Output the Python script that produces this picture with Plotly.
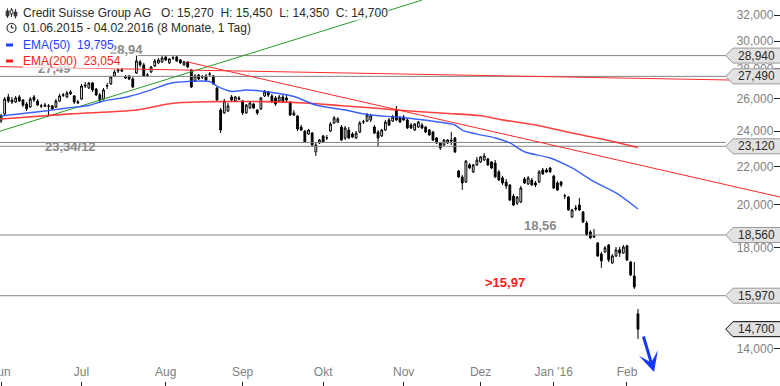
import numpy as np
import pandas as pd
import plotly.graph_objects as go

# ---------------- data ----------------
holidays = ["2015-12-24", "2015-12-25", "2015-12-31", "2016-01-01"]
dates = [d for d in pd.bdate_range("2015-06-01", "2016-02-04") if d.strftime("%Y-%m-%d") not in holidays]
day = list(range(len(dates)))  # trading-day index

opens = [24.62, 25.05, 26.12, 25.93, 25.80, 26.12, 25.93, 25.67, 25.48, 26.12, 25.86, 25.55, 25.61, 25.55, 25.55, 25.48, 25.86, 26.25, 26.12, 26.32, 26.19, 25.74,
         25.99, 26.91, 26.71, 27.04, 26.64, 26.25, 25.99, 26.84, 26.98, 27.52, 27.86, 27.93, 27.45, 27.52, 27.31, 27.72, 28.49, 28.28, 27.58, 27.79, 28.21, 28.42, 28.49,
         28.84, 28.42, 28.77, 28.84, 28.63, 28.28, 28.49, 27.93, 27.18, 27.58, 27.45, 27.52, 27.65, 27.52, 26.71, 25.29, 25.11, 25.23, 26.12, 25.86, 26.06,
         25.86, 25.11, 25.42, 25.67, 25.29, 25.36, 26.19, 26.45, 26.19, 26.06, 25.86, 26.12, 26.06, 25.74, 24.98, 24.92, 24.25, 24.01, 23.83, 23.89, 22.80, 23.31,
         23.72, 23.60, 24.01, 24.49, 24.55, 24.25, 23.60, 24.07, 23.83, 23.60, 23.95, 24.55, 24.61, 24.68, 24.25, 23.95, 23.72, 24.07, 24.68, 24.61, 25.29, 24.80,
         24.86, 24.68, 24.37, 24.07, 24.25, 24.37, 24.25, 24.07, 23.95, 23.60, 23.31, 23.20, 23.31, 23.48, 23.60, 21.75, 21.43, 21.16, 22.08, 21.70, 22.08,
         22.24, 22.35, 22.41, 22.24, 22.18, 21.70, 21.38, 21.16, 21.01, 20.44, 20.09, 20.14, 21.32, 21.06, 21.27, 21.11, 21.16, 21.80, 21.80, 21.91,
         21.48, 21.11, 21.16, 20.44, 20.39, 19.41, 19.85, 19.99, 19.65, 19.12, 18.70, 18.52, 18.20, 17.71, 17.80, 18.11, 17.32, 17.62, 17.89, 17.75,
         18.07, 17.36, 16.77, 15.27]
highs = [25.05, 26.12, 26.32, 26.12, 26.19, 26.25, 25.99, 25.80, 26.12, 26.25, 25.99, 25.67, 25.74, 25.67, 25.61, 25.99, 26.32, 26.38, 26.51, 26.58, 26.25, 25.93,
         26.98, 27.11, 27.11, 27.11, 26.71, 26.38, 26.71, 27.04, 27.52, 27.93, 28.07, 28.07, 27.58, 27.58, 27.45, 28.94, 28.63, 28.42, 27.72, 28.21, 28.70, 28.77, 28.91,
         28.91, 28.77, 28.91, 28.91, 28.70, 28.56, 28.56, 28.00, 27.65, 27.65, 27.58, 27.65, 27.79, 27.58, 26.78, 25.42, 25.99, 25.74, 26.25, 26.19, 26.19,
         25.93, 25.67, 25.80, 25.74, 25.36, 26.12, 26.58, 26.51, 26.32, 26.19, 26.25, 26.25, 26.25, 25.86, 25.29, 24.98, 24.37, 24.07, 24.13, 23.95, 23.31, 23.54,
         23.78, 23.78, 24.55, 24.92, 24.86, 24.37, 24.31, 24.25, 23.95, 24.01, 24.61, 24.68, 25.11, 25.05, 24.37, 24.07, 24.13, 24.68, 24.80, 24.98, 25.55, 24.92,
         24.98, 24.80, 24.49, 24.49, 24.61, 24.49, 24.31, 24.13, 24.01, 23.66, 23.37, 23.54, 23.54, 23.95, 23.66, 21.80, 21.54, 22.35, 22.18, 22.13, 22.52,
         22.57, 22.74, 22.46, 22.29, 22.35, 21.80, 21.48, 21.32, 21.06, 20.55, 20.44, 20.96, 21.43, 21.48, 21.38, 21.22, 21.80, 21.91, 21.91, 21.97,
         21.54, 21.22, 21.22, 20.55, 20.44, 19.80, 19.99, 20.34, 19.70, 19.22, 18.79, 18.84, 18.24, 17.80, 18.06, 18.15, 17.71, 18.02, 18.02, 18.11,
         18.11, 17.41, 17.36, 15.45]
lows = [24.49, 24.98, 25.74, 25.67, 25.74, 25.80, 25.48, 25.23, 25.42, 25.80, 25.55, 25.42, 25.48, 24.92, 25.29, 25.42, 25.80, 26.12, 26.06, 26.25, 25.67, 25.67,
        25.93, 26.71, 26.64, 26.45, 26.19, 25.74, 25.93, 26.64, 26.91, 27.45, 27.72, 27.79, 27.31, 27.24, 26.71, 27.65, 28.14, 27.45, 27.45, 27.72, 28.14, 28.35, 28.42,
        28.56, 28.35, 28.63, 28.49, 28.35, 28.21, 28.07, 26.71, 27.11, 27.24, 27.31, 27.18, 27.52, 26.91, 25.86, 23.89, 25.05, 25.17, 25.86, 25.80, 25.93,
        24.98, 25.05, 25.36, 25.36, 24.98, 25.29, 26.12, 26.12, 25.74, 25.55, 25.80, 25.74, 25.80, 24.92, 24.92, 24.01, 24.01, 23.31, 23.78, 23.08, 22.57, 23.25,
        23.31, 23.48, 23.95, 24.43, 24.49, 23.43, 23.48, 23.54, 23.60, 23.54, 23.89, 24.43, 24.55, 24.55, 23.83, 23.08, 23.66, 24.01, 24.31, 24.55, 24.61, 24.49,
        24.61, 24.13, 24.13, 24.01, 24.19, 24.13, 23.89, 23.72, 23.43, 23.25, 22.91, 23.14, 23.25, 23.20, 22.74, 21.38, 20.75, 21.11, 21.86, 21.64, 22.02,
        22.19, 22.29, 22.02, 21.86, 21.38, 21.22, 21.01, 20.80, 20.19, 19.94, 19.99, 20.09, 21.06, 21.01, 20.96, 20.90, 21.11, 21.54, 21.64, 21.64,
        20.80, 20.70, 20.90, 20.29, 19.70, 19.36, 19.70, 19.70, 19.12, 18.52, 18.38, 18.43, 17.58, 17.11, 17.75, 17.36, 17.28, 17.58, 17.58, 17.71,
        17.41, 16.77, 16.24, 14.35]
closes = [24.92, 25.99, 25.86, 25.80, 26.06, 25.86, 25.61, 25.36, 25.99, 25.93, 25.61, 25.54, 25.55, 25.53, 25.36, 25.86, 26.19, 26.24, 26.38, 26.45, 25.80, 25.80,
          26.84, 26.84, 27.04, 26.58, 26.25, 25.93, 26.58, 26.86, 27.45, 27.79, 27.93, 27.86, 27.38, 27.31, 26.78, 28.56, 28.28, 27.52, 27.57, 28.14, 28.56, 28.63, 28.77,
          28.63, 28.70, 28.76, 28.56, 28.42, 28.49, 28.14, 26.78, 27.52, 27.31, 27.44, 27.24, 27.64, 26.98, 25.93, 24.07, 25.86, 25.55, 25.93, 26.12, 25.99,
          25.11, 25.61, 25.74, 25.42, 25.11, 26.06, 26.45, 26.25, 25.86, 25.67, 26.12, 25.86, 25.93, 24.98, 25.11, 24.13, 24.07, 23.37, 24.07, 23.20, 23.20, 23.48,
          23.37, 23.61, 24.43, 24.80, 24.74, 23.48, 24.19, 23.60, 23.66, 23.89, 24.49, 24.56, 24.98, 24.92, 23.89, 23.60, 24.07, 24.55, 24.37, 24.86, 24.68, 24.55,
          24.68, 24.19, 24.19, 24.43, 24.55, 24.19, 23.95, 23.78, 23.48, 23.31, 23.02, 23.48, 23.48, 23.43, 22.80, 21.43, 21.11, 22.29, 21.91, 22.08, 22.35,
          22.52, 22.57, 22.08, 21.91, 21.43, 21.27, 21.11, 20.96, 20.24, 19.99, 20.39, 20.85, 21.11, 21.38, 21.01, 21.01, 21.70, 21.59, 21.70, 21.70,
          20.85, 20.75, 21.01, 20.45, 19.75, 19.75, 19.80, 19.75, 19.17, 18.56, 18.43, 18.47, 17.62, 17.41, 17.98, 17.45, 17.62, 17.89, 17.75, 18.02,
          17.45, 16.81, 16.32, 14.70]

ema50_day = [0, 12, 18, 24, 28, 35, 41, 46, 51, 57, 59, 63, 67, 72, 80, 86, 94, 101, 108, 113, 119, 124, 126, 130, 135, 139, 143, 150, 156, 162, 168, 174]
ema50_val = [24.92, 25.23, 25.42, 25.58, 25.86, 26.15, 26.58, 27.01, 27.14, 27.14, 26.84, 26.48, 26.58, 26.48, 26.15, 25.61, 25.29, 24.98, 24.86, 24.74,
             24.57, 24.37, 24.07, 23.83, 23.60, 23.31, 22.81, 22.46, 21.91, 21.18, 20.60, 19.795]
ema200_day = [0, 19, 37, 47, 58, 72, 84, 93, 101, 108, 121, 131, 137, 146, 156, 164, 174]
ema200_val = [24.74, 25.05, 25.29, 25.72, 25.82, 25.82, 25.72, 25.56, 25.43, 25.29, 25.09, 24.94, 24.68, 24.37, 23.89, 23.54, 23.054]

level_vals = [28.94, 27.49, 23.34, 23.12, 18.56, 15.97]
level_start = [37.4, -0.3, -0.3, -0.3, -0.3, -0.3]
level_end = 198.0

green_day, green_val = [-0.3, 115.0], [24.0, 33.2]
red_down_day, red_down_val = [50.7, 212.8], [28.5, 20.39]
red_flat_day, red_flat_val = [-0.3, 212.8], [28.16, 27.18]

box_vals = [28.94, 27.49, 23.12, 18.56, 15.97, 14.70]
ytick_vals = [14, 16, 18, 20, 22, 24, 26, 28, 30, 32]
month_labels = ["Jun", "Jul", "Aug", "Sep", "Okt", "Nov", "Dez", "Jan '16", "Feb"]

def de(v, n=3):
    return f"{v:.{n}f}".replace(".", ",")

# first trading day of each month
month_ticks, prev = [], None
for i, d in enumerate(dates):
    if (d.year, d.month) != prev:
        month_ticks.append(i)
        prev = (d.year, d.month)

# ---------------- figure ----------------
W, H, B = 780, 386, 5
PH = H - B
lo, hi = 1.1116, 1.52128
FONT = "Liberation Sans, Arial, sans-serif"

def px(xp):
    return xp / W

def py(yp):
    return 1 - yp / PH

def vy(v):
    return (np.log10(v) - lo) / (hi - lo)

fig = go.Figure()

for v, s in zip(level_vals, level_start):
    fig.add_trace(go.Scatter(x=[s, level_end], y=[v, v], mode="lines",
                             line=dict(color="#858585", width=1), hoverinfo="skip"))

fig.add_trace(go.Scatter(x=green_day, y=green_val, mode="lines", line=dict(color="#2a9a2a", width=1), hoverinfo="skip"))
fig.add_trace(go.Scatter(x=red_down_day, y=red_down_val, mode="lines", line=dict(color="#ff2a2a", width=1), hoverinfo="skip"))
fig.add_trace(go.Scatter(x=red_flat_day, y=red_flat_val, mode="lines", line=dict(color="#ff2a2a", width=1), hoverinfo="skip"))

fig.add_trace(go.Candlestick(
    x=day, open=opens, high=highs, low=lows, close=closes,
    increasing=dict(line=dict(color="#000000", width=1), fillcolor="#ffffff"),
    decreasing=dict(line=dict(color="#000000", width=1), fillcolor="#000000"),
    whiskerwidth=0, hoverinfo="skip"))

fig.add_trace(go.Scatter(x=ema200_day, y=ema200_val, mode="lines", line=dict(color="rgba(255,30,30,0.85)", width=1.6, shape="spline", smoothing=0.8), hoverinfo="skip"))
fig.add_trace(go.Scatter(x=ema50_day, y=ema50_val, mode="lines", line=dict(color="rgba(40,80,255,0.9)", width=1.4, shape="spline", smoothing=0.8), hoverinfo="skip"))

shapes, annotations = [], []

# price boxes on the right
hh = 7.5 / PH
for k, v in enumerate(box_vals):
    c = vy(v)
    last = (k == len(box_vals) - 1)
    path = (f"M {px(725.7)},{c} L {px(733)},{c + hh} L {px(782)},{c + hh} "
            f"L {px(782)},{c - hh} L {px(733)},{c - hh} Z")
    shapes.append(dict(type="path", xref="paper", yref="paper", path=path, layer="above",
                       fillcolor="#e2e2e2", line=dict(color="#000000" if last else "#9a9a9a", width=1)))
    annotations.append(dict(xref="paper", yref="paper", x=px(756), y=c, text=de(v), showarrow=False,
                            xanchor="center", yanchor="middle", font=dict(family=FONT, size=12, color="#2b2b2b")))

# level labels
lbls = [("28,94", 34.2, 29.38, "#8a8a8a"), ("27,49", 14.5, 28.03, "#8a8a8a"),
        ("23,34/12", 19.1, 23.08, "#8a8a8a"), ("18,56", 147.3, 19.0, "#8a8a8a"),
        (">15,97", 137.8, 16.5, "#ff1a1a")]
for t, xd, yv, col in lbls:
    annotations.append(dict(x=xd, y=np.log10(yv), xref="x", yref="y", text=f"<b>{t}</b>", showarrow=False,
                            font=dict(family=FONT, size=13, color=col), xanchor="center", yanchor="middle"))

# legend rows
NB = "\u00a0"
row1 = ("Credit Suisse Group AG" + NB * 3 + "O: " + de(opens[-1]) + NB * 2 + "H: " + de(highs[-1]) + NB * 2 +
        "L: " + de(lows[-1]) + NB * 2 + "C: " + de(closes[-1]))
row2 = dates[0].strftime("%d.%m.%Y") + " - " + dates[-1].strftime("%d.%m.%Y") + " (8 Monate, 1 Tag)"
row3 = "EMA(50)" + NB * 2 + de(ema50_val[-1])
row4 = "EMA(200)" + NB * 2 + de(ema200_val[-1])
for t, yp, col in [(row1, 13, "#2b2b2b"), (row2, 28.5, "#2b2b2b"), (row3, 45, "#1f3fff"), (row4, 61, "#ff1a1a")]:
    annotations.append(dict(xref="paper", yref="paper", x=px(22), y=py(yp), text=t, showarrow=False,
                            xanchor="left", yanchor="middle", bgcolor="rgba(255,255,255,0.75)", borderpad=0,
                            font=dict(family=FONT, size=12, color=col)))

# legend markers
shapes.append(dict(type="line", xref="paper", yref="paper", x0=px(6), x1=px(13), y0=py(45), y1=py(45),
                   line=dict(color="#1f3fff", width=3), layer="above"))
shapes.append(dict(type="line", xref="paper", yref="paper", x0=px(6), x1=px(13), y0=py(61), y1=py(61),
                   line=dict(color="#ff1a1a", width=3), layer="above"))
# candle icon
for cx, w0, w1, b0, b1, fill in [(7.5, 8.5, 18, 11, 16, "#333"), (11.5, 8, 17, 10, 14, "#ffffff"), (15.5, 9, 18.5, 12, 16, "#333")]:
    shapes.append(dict(type="line", xref="paper", yref="paper", x0=px(cx), x1=px(cx), y0=py(w0), y1=py(w1),
                       line=dict(color="#333", width=1), layer="above"))
    shapes.append(dict(type="rect", xref="paper", yref="paper", x0=px(cx - 1.3), x1=px(cx + 1.3), y0=py(b0), y1=py(b1),
                       line=dict(color="#333", width=1), fillcolor=fill, layer="above"))
# clock icon
shapes.append(dict(type="circle", xref="paper", yref="paper", x0=px(7), x1=px(16), y0=py(23.5), y1=py(32.5),
                   line=dict(color="#333", width=1.2), layer="above"))
shapes.append(dict(type="line", xref="paper", yref="paper", x0=px(11.5), x1=px(11.5), y0=py(28), y1=py(25),
                   line=dict(color="#333", width=1.2), layer="above"))
shapes.append(dict(type="line", xref="paper", yref="paper", x0=px(11.5), x1=px(13.8), y0=py(28), y1=py(28),
                   line=dict(color="#333", width=1.2), layer="above"))

# blue arrow
annotations.append(dict(xref="paper", yref="paper", x=px(654), y=py(372), ax=-11, ay=-37, text="", showarrow=True,
                        arrowhead=3, arrowsize=1.1, arrowwidth=3, arrowcolor="#1438ff"))

fig.update_layout(
    width=W, height=H, margin=dict(l=0, r=0, t=0, b=B, autoexpand=False),
    paper_bgcolor="#ffffff", plot_bgcolor="#ffffff", showlegend=False,
    shapes=shapes, annotations=annotations,
    xaxis=dict(type="linear", range=[-0.273, 212.8], showgrid=False, zeroline=False, showline=False,
               tickvals=month_ticks, ticktext=month_labels, ticks="outside", ticklen=5, tickcolor="#222",
               ticklabelposition="inside", ticklabeloverflow="allow", automargin=False,
               tickfont=dict(family=FONT, size=12, color="#7f7f7f"), rangeslider=dict(visible=False), fixedrange=True),
    yaxis=dict(type="log", range=[lo, hi], side="right", showgrid=False, zeroline=False, showline=False,
               tickvals=ytick_vals, ticktext=[de(v) for v in ytick_vals], ticks="inside", ticklen=6, tickcolor="#222",
               ticklabelposition="inside", automargin=False,
               tickfont=dict(family=FONT, size=12, color="#7f7f7f"), fixedrange=True),
)

fig.write_html("out.html", config={"displayModeBar": False},
               post_script="document.body.style.margin='0';document.body.style.padding='0';")
